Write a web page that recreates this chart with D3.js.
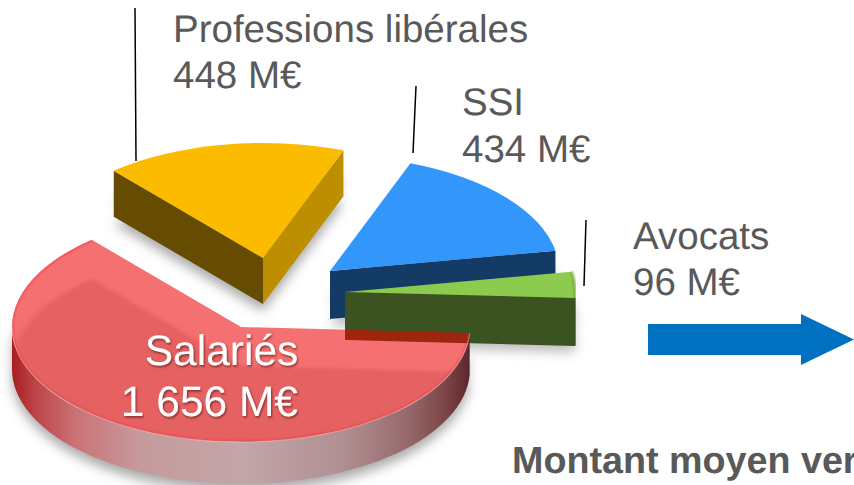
<!DOCTYPE html>
<html lang="fr">
<head>
<meta charset="utf-8">
<script src="https://cdn.jsdelivr.net/npm/d3@7"></script>
<style>
html,body{margin:0;padding:0;background:#fff;overflow:hidden}
svg{display:block}
text{font-family:"Liberation Sans",Arial,sans-serif;text-rendering:geometricPrecision}
</style>
</head>
<body>
<svg id="chart" width="854" height="485" viewBox="0 0 854 485"></svg>
<script>
// --- data ---
const categories = ["Salariés", "Professions libérales", "SSI", "Avocats"];
const amounts = [1656, 448, 434, 96];
const amountLabels = ["1 656 M€", "448 M€", "434 M€", "96 M€"];
const footerText = "Montant moyen ver";

// --- layout ---
const rx = 229, ry = 115;
const startDeg = 93;
const layout = [
  {cx:241, cy:327, depth:42, top:"#ED0202", topOpacity:.565},
  {cx:263, cy:258, depth:46, top:"#FBBC00", faces:["#654C00","#BD8F00"]},
  {cx:330, cy:271, depth:48, top:"#3296FB", faces:["#143A66"]},
  {cx:346, cy:292, depth:47, top:"#8CCB4E", faces:["#3B5320"]}
];
const labelPos = [
  {x:221.5, y:365, anchor:"middle", color:"#fff", dy:51, size:42.5, x2:298, anchor2:"end"},
  {x:173, y:42, anchor:"start", color:"#595959", dy:46, size:38.5, lead:[[135,8],[136,161]]},
  {x:462, y:115, anchor:"start", color:"#595959", dy:46.5, size:38.5, lead:[[416,86],[413,153]]},
  {x:633, y:248.5, anchor:"start", color:"#595959", dy:46.5, size:38.5, lead:[[586,220],[584,286]]}
];

const svg = d3.select("#chart");
const defs = svg.append("defs");

const pie = d3.pie().sort(null).value(d => d)
  .startAngle(startDeg * Math.PI / 180)
  .endAngle((startDeg + 360) * Math.PI / 180);
const slices = pie(amounts);

const arc = d3.arc().innerRadius(0).outerRadius(rx);
const flat = ry / rx;
const at = (l, a, dy = 0) => [l.cx + rx * Math.sin(a), l.cy - ry * Math.cos(a) + dy];
const topTransform = (l, dy = 0) => `translate(${l.cx},${l.cy + dy}) scale(1,${flat})`;
const arcTo = (p, large, sweep) => `A${rx},${ry} 0 ${large} ${sweep} ${p[0]},${p[1]}`;

function silhouette(s, l) {
  const a = at(l, s.startAngle), b = at(l, s.endAngle);
  const large = s.endAngle - s.startAngle > Math.PI ? 1 : 0;
  return `M${l.cx},${l.cy}L${a}${arcTo(b, large, 1)}Z`;
}
function blur(id, dev) {
  defs.append("filter").attr("id", id).attr("x", "-20%").attr("y", "-20%").attr("width", "140%").attr("height", "140%")
    .append("feGaussianBlur").attr("stdDeviation", dev);
}
blur("soft", 6); blur("soft2", 3); blur("rim", 1.2);
defs.append("filter").attr("id", "txtShadow").attr("x", "-10%").attr("y", "-20%").attr("width", "120%").attr("height", "140%")
  .append("feDropShadow").attr("dx", 1).attr("dy", 1.5).attr("stdDeviation", 1.2)
  .attr("flood-color", "#5a1010").attr("flood-opacity", .7);

const sideGrad = defs.append("linearGradient").attr("id", "redSide")
  .attr("gradientUnits", "userSpaceOnUse").attr("x1", 12).attr("x2", 471).attr("y1", 0).attr("y2", 0);
[[0,"#A81E20"],[.05,"#BC4446"],[.14,"#CB7375"],[.28,"#C69A9C"],[.5,"#C3A6A8"],[.72,"#B09092"],[.86,"#976A6C"],[.95,"#7A4245"],[1,"#5A2428"]]
  .forEach(d => sideGrad.append("stop").attr("offset", d[0]).attr("stop-color", d[1]));

function shadow(idx, opacity) {
  const s = slices[idx], l = layout[idx];
  const g = svg.append("g").attr("filter", "url(#soft)").attr("opacity", opacity).attr("transform", "translate(0,7)");
  g.append("path").attr("d", silhouette(s, l)).attr("fill", "#555").attr("transform", `translate(0,${l.depth})`);
  g.append("path").attr("d", silhouette(s, l)).attr("fill", "#555").attr("transform", `translate(0,${l.depth / 2})`);
}
function cutFace(l, a, color) {
  const p = at(l, a);
  return svg.append("path")
    .attr("d", `M${l.cx},${l.cy}L${p}L${p[0]},${p[1] + l.depth}L${l.cx},${l.cy + l.depth}Z`)
    .attr("fill", color);
}
function topFace(s, l) {
  return svg.append("path").attr("d", arc(s)).attr("transform", topTransform(l)).attr("fill", l.top);
}

// all soft shadows first, then a white backing so the main slice's alpha is not dirtied by them
shadow(0, .5); shadow(1, .5); shadow(2, .45); shadow(3, .4);
const rL = layout[0], rS = slices[0];
svg.append("path").attr("d", arc(rS)).attr("transform", topTransform(rL)).attr("fill", "#fff");

// SSI
cutFace(layout[2], slices[2].endAngle, layout[2].faces[0]);
topFace(slices[2], layout[2]);

// Professions libérales
cutFace(layout[1], slices[1].startAngle, layout[1].faces[0]);
cutFace(layout[1], slices[1].endAngle, layout[1].faces[1]);
topFace(slices[1], layout[1]);

// Avocats
cutFace(layout[3], slices[3].endAngle, layout[3].faces[0])
  .attr("stroke", layout[3].faces[0]).attr("stroke-width", 2).attr("stroke-linejoin", "round");
topFace(slices[3], layout[3]);
const avL = layout[3], avS = slices[3];
svg.append("path")
  .attr("d", `M${at(avL, avS.startAngle)}${arcTo(at(avL, avS.endAngle), 0, 1)}`)
  .attr("fill", "none").attr("stroke", "#78AC42").attr("stroke-width", 2.5).attr("filter", "url(#rim)");

// Salariés: rim
const sideA = rS.startAngle, sideB = 1.5 * Math.PI;
const pA = at(rL, sideA), pB = at(rL, sideB), pB2 = at(rL, sideB, rL.depth), pA2 = at(rL, sideA, rL.depth);
svg.append("path")
  .attr("d", `M${pA}${arcTo(pB, 0, 1)}L${pB2}${arcTo(pA2, 0, 0)}Z`)
  .attr("fill", "url(#redSide)");

// Salariés: semi-transparent top
defs.append("clipPath").attr("id", "redTop")
  .append("path").attr("d", arc(rS)).attr("transform", topTransform(rL));
topFace(rS, rL).attr("fill-opacity", rL.topOpacity);

const clip = svg.append("g").attr("clip-path", "url(#redTop)");
clip.append("path").attr("d", arc(rS)).attr("transform", topTransform(rL, 39))
  .attr("fill", "#7a0a0a").attr("fill-opacity", .13).attr("filter", "url(#soft2)");
clip.append("path").attr("d", `M${pA}${arcTo(at(rL, rS.endAngle), 1, 1)}`)
  .attr("fill", "none").attr("stroke", "#ED2030").attr("stroke-opacity", .4)
  .attr("stroke-width", 3).attr("filter", "url(#rim)");

svg.append("path").attr("d", `M${pA}${arcTo(pB, 0, 1)}`)
  .attr("fill", "none").attr("stroke", "#fff").attr("stroke-opacity", .35).attr("stroke-width", 1.2);

// leader lines
labelPos.forEach(p => {
  if (p.lead) svg.append("path").attr("d", d3.line()(p.lead))
    .attr("fill", "none").attr("stroke", "#000").attr("stroke-width", 1.5);
});

// labels
categories.forEach((c, i) => {
  const p = labelPos[i];
  const g = svg.append("g").attr("fill", p.color).attr("font-size", p.size);
  if (i === 0) g.attr("filter", "url(#txtShadow)");
  g.append("text").attr("x", p.x).attr("y", p.y).attr("text-anchor", p.anchor).text(c);
  g.append("text").attr("x", p.x2 || p.x).attr("y", p.y + p.dy)
    .attr("text-anchor", p.anchor2 || p.anchor).text(amountLabels[i]);
});

// arrow
svg.append("path").attr("d", "M648,324H801V314L854,339.5L801,365V355H648Z").attr("fill", "#0070C0");

// footer
svg.append("text").attr("x", 512).attr("y", 473).attr("font-size", 37.7).attr("font-weight", "bold")
  .attr("fill", "#595959").text(footerText);
</script>
</body>
</html>
